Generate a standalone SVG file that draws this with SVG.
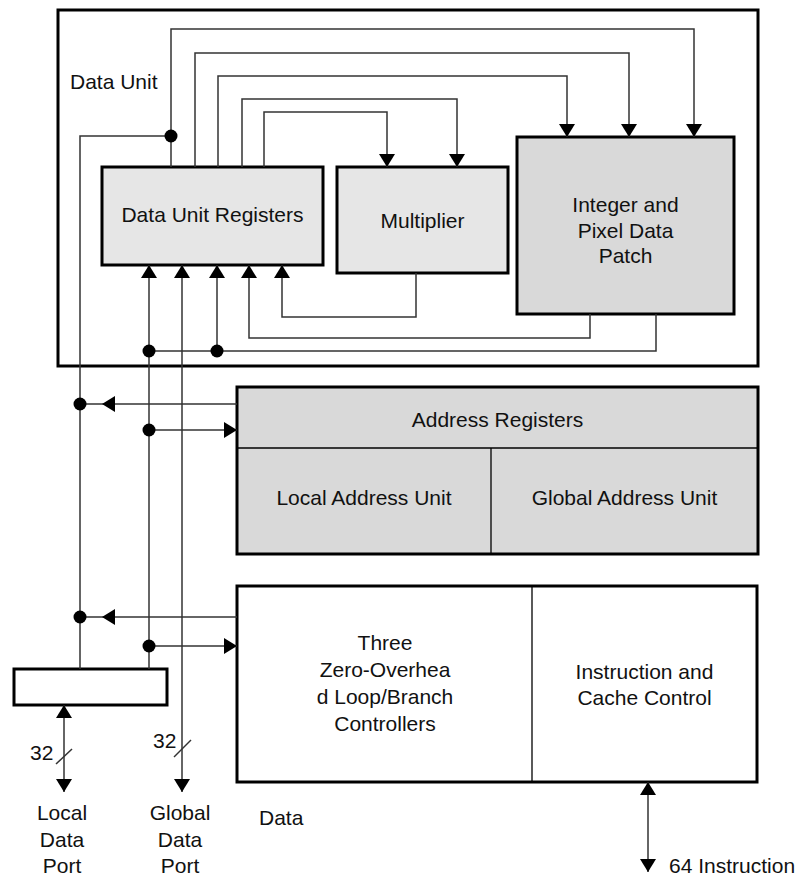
<svg xmlns="http://www.w3.org/2000/svg" width="799" height="878" viewBox="0 0 799 878">
<defs>
<style>
.box{stroke:#000;stroke-width:3;}
.div{stroke:#000;stroke-width:1.3;fill:none;}
.w{fill:#fff;}
.l1{fill:#e6e6e6;}
.l2{fill:#d9d9d9;}
.c{fill:none;stroke:#333;stroke-width:1.5;}
.t{font-family:"Liberation Sans",Arial,sans-serif;font-size:21px;fill:#111;}
.m{text-anchor:middle;}
.dot{fill:#000;}
</style>
<marker id="arr" viewBox="0 0 13 16" refX="13" refY="8" markerWidth="13" markerHeight="16" markerUnits="userSpaceOnUse" orient="auto-start-reverse">
<path d="M0,0 L13,8 L0,16 z" fill="#000"/>
</marker>
</defs>
<rect width="799" height="878" fill="#fff"/>

<g id="data-unit">
<rect class="box w" x="58" y="10" width="700" height="356"/>
<text class="t" x="70" y="89">Data Unit</text>
</g>

<g id="data-unit-registers">
<rect class="box l1" x="102" y="167" width="221" height="98"/>
<text class="t m" x="212.5" y="222">Data Unit Registers</text>
</g>

<g id="multiplier">
<rect class="box l1" x="337" y="167" width="171" height="106"/>
<text class="t m" x="422.5" y="228">Multiplier</text>
</g>

<g id="integer-pixel">
<rect class="box l2" x="517" y="137" width="217" height="177"/>
<text class="t m" x="625.5" y="212">Integer and</text>
<text class="t m" x="625.5" y="238">Pixel Data</text>
<text class="t m" x="625.5" y="263">Patch</text>
</g>

<g id="address">
<rect class="box l2" x="237" y="387" width="521" height="167"/>
<line class="div" x1="237" y1="448" x2="758" y2="448"/>
<line class="div" x1="491" y1="448" x2="491" y2="554"/>
<text class="t m" x="497.5" y="427">Address Registers</text>
<text class="t m" x="364" y="505">Local Address Unit</text>
<text class="t m" x="624.5" y="505">Global Address Unit</text>
</g>

<g id="controllers">
<rect class="box w" x="237" y="586" width="520" height="196"/>
<line class="div" x1="532" y1="586" x2="532" y2="782"/>
<text class="t m" x="385" y="650">Three</text>
<text class="t m" x="385" y="677">Zero-Overhea</text>
<text class="t m" x="385" y="704">d Loop/Branch</text>
<text class="t m" x="385" y="731">Controllers</text>
<text class="t m" x="644.5" y="679">Instruction and</text>
<text class="t m" x="644.5" y="705">Cache Control</text>
</g>

<g id="port-register">
<rect class="box w" x="14" y="669" width="153" height="36"/>
</g>

<g id="connectors">
<path class="c" d="M171,167 V29 H694 V137" marker-end="url(#arr)"/>
<path class="c" d="M195,167 V53 H629 V137" marker-end="url(#arr)"/>
<path class="c" d="M218,167 V76 H567 V137" marker-end="url(#arr)"/>
<path class="c" d="M242,167 V99 H457 V167" marker-end="url(#arr)"/>
<path class="c" d="M264,167 V112 H387 V167" marker-end="url(#arr)"/>
<path class="c" d="M171,136 H80 V669"/>

<path class="c" d="M416,273 V317 H282 V265" marker-end="url(#arr)"/>
<path class="c" d="M590,314 V338 H249 V265" marker-end="url(#arr)"/>
<path class="c" d="M656,314 V351 H149"/>
<path class="c" d="M217,351 V265" marker-end="url(#arr)"/>
<path class="c" d="M149,669 V265" marker-end="url(#arr)"/>
<path class="c" d="M182,265 V792" marker-start="url(#arr)" marker-end="url(#arr)"/>

<path class="c" d="M237,404 H102" marker-end="url(#arr)"/>
<path class="c" d="M102,404 H80"/>
<path class="c" d="M149,430 H237" marker-end="url(#arr)"/>
<path class="c" d="M237,617 H102" marker-end="url(#arr)"/>
<path class="c" d="M102,617 H80"/>
<path class="c" d="M149,646 H237" marker-end="url(#arr)"/>

<path class="c" d="M64,705 V792" marker-start="url(#arr)" marker-end="url(#arr)"/>
<path class="c" d="M648,782 V872" marker-start="url(#arr)" marker-end="url(#arr)"/>

<line class="c" x1="56" y1="764" x2="72" y2="749"/>
<line class="c" x1="174" y1="757" x2="191" y2="740"/>

<circle class="dot" cx="171" cy="136" r="6.5"/>
<circle class="dot" cx="149" cy="351" r="6.5"/>
<circle class="dot" cx="217" cy="351" r="6.5"/>
<circle class="dot" cx="80" cy="404" r="6.5"/>
<circle class="dot" cx="149" cy="430" r="6.5"/>
<circle class="dot" cx="80" cy="617" r="6.5"/>
<circle class="dot" cx="149" cy="646" r="6.5"/>
</g>

<g id="labels">
<text class="t" x="30" y="760">32</text>
<text class="t" x="153" y="748">32</text>
<text class="t m" x="62" y="820">Local</text>
<text class="t m" x="62" y="847">Data</text>
<text class="t m" x="62" y="873">Port</text>
<text class="t m" x="180" y="820">Global</text>
<text class="t m" x="180" y="847">Data</text>
<text class="t m" x="180" y="873">Port</text>
<text class="t" x="259" y="825">Data</text>
<text class="t" x="669" y="873">64 Instruction</text>
</g>
</svg>
